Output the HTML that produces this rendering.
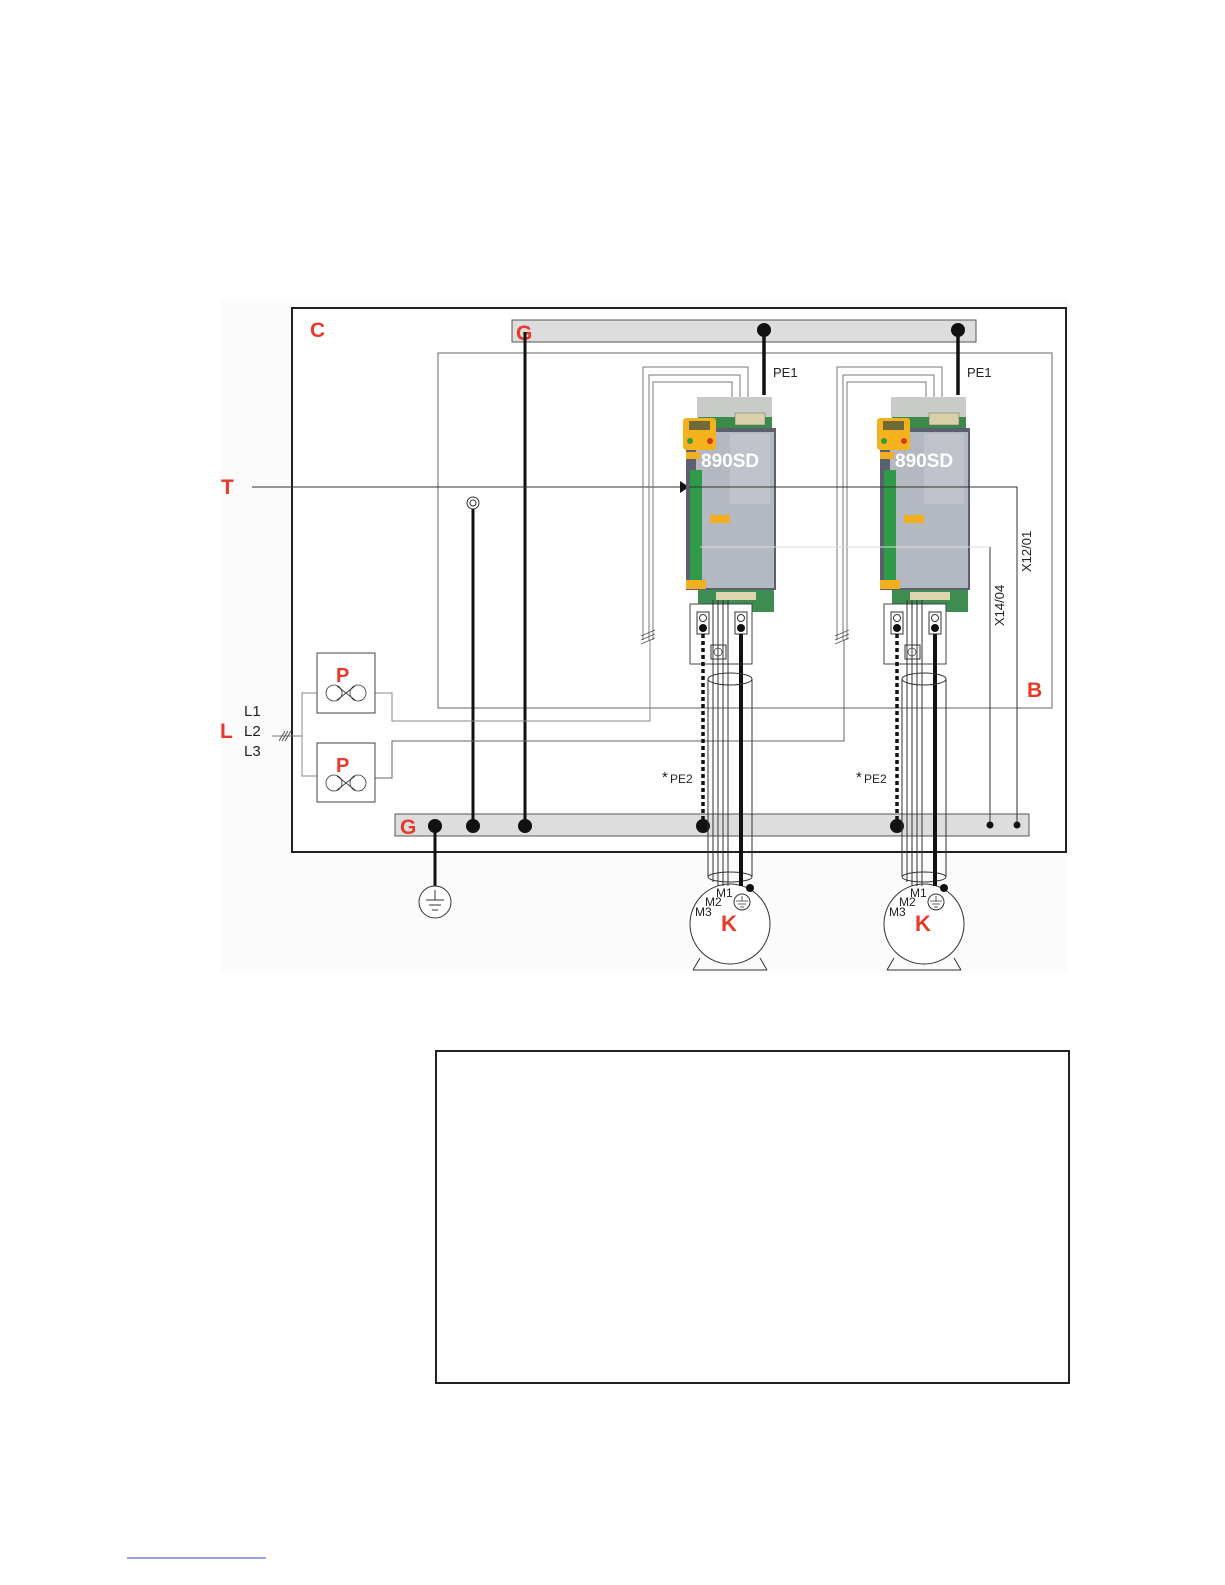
<!DOCTYPE html>
<html><head><meta charset="utf-8"><style>
html,body{margin:0;padding:0;background:#fff;}
svg{display:block;font-family:"Liberation Sans",sans-serif;}
.r{fill:#e8392a;font-weight:bold;}
</style></head><body>
<svg width="1225" height="1585" viewBox="0 0 1225 1585">
<rect x="220" y="300" width="848" height="672" fill="#fbfbfb"/>
<rect x="292" y="308" width="774" height="544" fill="#fff" stroke="#222" stroke-width="2"/>
<text x="310" y="337" class="r" font-size="21">C</text>
<rect x="438" y="353" width="614" height="355" fill="none" stroke="#666" stroke-width="1"/>
<text x="1027" y="697" class="r" font-size="21">B</text>
<rect x="512" y="320" width="464" height="22" fill="#ddd" stroke="#555" stroke-width="1"/>
<text x="516" y="340" class="r" font-size="21">G</text>
<rect x="395" y="814" width="634" height="22" fill="#ddd" stroke="#555" stroke-width="1"/>
<text x="400" y="834" class="r" font-size="21">G</text>
<line x1="525" y1="332" x2="525" y2="826" stroke="#111" stroke-width="3"/>
<circle cx="525" cy="826" r="7" fill="#111"/>
<line x1="473" y1="509" x2="473" y2="826" stroke="#111" stroke-width="3"/>
<circle cx="473" cy="503" r="6" fill="#fff" stroke="#333"/>
<circle cx="473" cy="503" r="3" fill="#fff" stroke="#333"/>
<circle cx="473" cy="826" r="7" fill="#111"/>
<line x1="435" y1="826" x2="435" y2="886" stroke="#111" stroke-width="3"/>
<circle cx="435" cy="826" r="7" fill="#111"/>
<circle cx="435" cy="902" r="16" fill="#fff" stroke="#333"/>
<line x1="435" y1="890" x2="435" y2="900" stroke="#333"/>
<line x1="426" y1="900" x2="444" y2="900" stroke="#333"/>
<line x1="429" y1="905" x2="441" y2="905" stroke="#333"/>
<line x1="432" y1="910" x2="438" y2="910" stroke="#333"/>
<text x="221" y="494" class="r" font-size="21">T</text>
<polyline points="252,487 1017,487 1017,825" fill="none" stroke="#333" stroke-width="1"/>
<polygon points="680,481 689,487 680,493" fill="#111"/>
<polyline points="700,547 990,547 990,825" fill="none" stroke="#333" stroke-width="1"/>
<circle cx="1017" cy="825" r="3.5" fill="#111"/><circle cx="990" cy="825" r="3.5" fill="#111"/>
<text transform="translate(1031,572) rotate(-90)" font-size="13" fill="#222">X12/01</text>
<text transform="translate(1004,626) rotate(-90)" font-size="13" fill="#222">X14/04</text>
<text x="220" y="738" class="r" font-size="21">L</text>
<text x="244" y="716" font-size="15" fill="#222">L1</text>
<text x="244" y="736" font-size="15" fill="#222">L2</text>
<text x="244" y="756" font-size="15" fill="#222">L3</text>
<line x1="272" y1="736" x2="302" y2="736" stroke="#777"/>
<path d="M279,741 l6,-10 M282,741 l6,-10 M285,741 l6,-10" stroke="#555"/>
<polyline points="317,693 302,693 302,776 317,776" fill="none" stroke="#888"/>
<polyline points="375,693 392,693 392,721 650,721 650,640" fill="none" stroke="#888"/>
<polyline points="375,778 392,778 392,741 844,741 844,640" fill="none" stroke="#666"/>
<rect x="317" y="653" width="58" height="60" fill="#fff" stroke="#444"/>
<text x="336" y="682" class="r" font-size="20">P</text>
<g fill="none" stroke="#333" stroke-width="0.8"><circle cx="334" cy="693" r="8"/><circle cx="358" cy="693" r="8"/><path d="M337,686 L355,700 M337,700 L355,686"/></g>
<rect x="317" y="743" width="58" height="59" fill="#fff" stroke="#444"/>
<text x="336" y="772" class="r" font-size="20">P</text>
<g fill="none" stroke="#333" stroke-width="0.8"><circle cx="334" cy="783" r="8"/><circle cx="358" cy="783" r="8"/><path d="M337,776 L355,790 M337,790 L355,776"/></g>

<defs>
<g id="drv">
<polyline points="643,640 643,367 748,367 748,405" fill="none" stroke="#777" stroke-width="1"/>
<polyline points="649,640 649,375 740,375 740,405" fill="none" stroke="#777" stroke-width="1"/>
<polyline points="653,640 653,382 732,382 732,405" fill="none" stroke="#777" stroke-width="1"/>
<path d="M641,636 l14,-6 M641,640 l14,-6 M641,644 l14,-6" stroke="#555" stroke-width="0.8"/>
<line x1="764" y1="332" x2="764" y2="395" stroke="#111" stroke-width="3.5"/>
<circle cx="764" cy="330" r="7" fill="#111"/>
<text x="773" y="377" font-size="13" fill="#222">PE1</text>
<rect x="697" y="397" width="75" height="20" fill="#c8ccc8"/>
<rect x="698" y="417" width="74" height="12" fill="#3a8a4a"/>
<rect x="735" y="413" width="30" height="12" fill="#d8d0a8" stroke="#666" stroke-width="0.5"/>
<rect x="686" y="428" width="90" height="162" fill="#5a6070"/>
<rect x="696" y="432" width="78" height="156" fill="#b4b8c0"/>
<rect x="730" y="434" width="40" height="70" fill="#c0c4ca"/>
<rect x="690" y="470" width="12" height="115" fill="#2f9a4a"/>
<rect x="710" y="515" width="20" height="8" fill="#f2b01e"/>
<rect x="686" y="580" width="20" height="9" fill="#f2b01e"/>
<rect x="698" y="590" width="76" height="22" fill="#3f8c50"/>
<rect x="716" y="592" width="40" height="8" fill="#ddd6b0"/>
<rect x="683" y="418" width="33" height="32" rx="3" fill="#f5b21c"/>
<rect x="689" y="421" width="21" height="9" fill="#6e6a3a"/>
<circle cx="690" cy="441" r="3" fill="#3a9a3a"/><circle cx="710" cy="441" r="3" fill="#d03a20"/>
<rect x="686" y="452" width="14" height="7" fill="#f2b01e"/>
<text x="701" y="467" font-size="19" font-weight="bold" fill="#fff">890SD</text>
<rect x="690" y="604" width="62" height="60" fill="#fff" stroke="#444"/>
<rect x="697" y="612" width="12" height="22" fill="#fff" stroke="#333"/>
<circle cx="703" cy="618" r="3.5" fill="#fff" stroke="#333"/><circle cx="703" cy="628" r="4" fill="#111"/>
<rect x="735" y="612" width="12" height="22" fill="#fff" stroke="#333"/>
<circle cx="741" cy="618" r="3.5" fill="#fff" stroke="#333"/><circle cx="741" cy="628" r="4" fill="#111"/>
<line x1="703" y1="634" x2="703" y2="826" stroke="#111" stroke-width="3.5" stroke-dasharray="4,3"/>
<circle cx="703" cy="826" r="7" fill="#111"/>
<line x1="741" y1="634" x2="741" y2="872" stroke="#111" stroke-width="4"/>
<rect x="711" y="645" width="15" height="14" fill="#fff" stroke="#333"/>
<circle cx="718" cy="652" r="4" fill="none" stroke="#333" stroke-width="0.7"/>
<line x1="718" y1="600" x2="718" y2="882" stroke="#333"/>
<line x1="723" y1="600" x2="723" y2="882" stroke="#333"/>
<line x1="713" y1="600" x2="713" y2="882" stroke="#333"/>
<line x1="728" y1="600" x2="728" y2="882" stroke="#333"/>
<ellipse cx="730" cy="679" rx="22" ry="6" fill="none" stroke="#333"/>
<ellipse cx="730" cy="877" rx="22" ry="5" fill="none" stroke="#333"/>
<line x1="708" y1="679" x2="708" y2="877" stroke="#333"/>
<line x1="752" y1="679" x2="752" y2="877" stroke="#333"/>
<text x="662" y="782" font-size="15" fill="#222">*</text>
<text x="670" y="783" font-size="12" fill="#222">PE2</text>
<path d="M700,958 L693,970 M760,958 L767,970" stroke="#333"/>
<line x1="693" y1="970" x2="767" y2="970" stroke="#333"/>
<circle cx="730" cy="924" r="40" fill="#fff" stroke="#333"/>
<line x1="718" y1="878" x2="718" y2="886" stroke="#333"/>
<line x1="723" y1="878" x2="723" y2="886" stroke="#333"/>
<line x1="728" y1="878" x2="728" y2="886" stroke="#333"/>
<line x1="741" y1="872" x2="741" y2="886" stroke="#111" stroke-width="4"/>
<circle cx="750" cy="888" r="4" fill="#111"/>
<circle cx="742" cy="902" r="8" fill="#fff" stroke="#333"/>
<path d="M742,896 v5 M736,901 h12 M738,904 h8 M740,907 h4" stroke="#333" stroke-width="0.8"/>
<text x="716" y="897" font-size="12" fill="#222">M1</text>
<text x="705" y="906" font-size="12" fill="#222">M2</text>
<text x="695" y="916" font-size="12" fill="#222">M3</text>
<text x="721" y="931" class="r" font-size="22">K</text>
</g>
</defs>
<use href="#drv"/>
<use href="#drv" transform="translate(194,0)"/>
<line x1="689" y1="487" x2="1017" y2="487" stroke="#333" stroke-width="1"/>
<line x1="700" y1="547" x2="990" y2="547" stroke="#ddd" stroke-width="1"/>
<rect x="436" y="1051" width="633" height="332" fill="#fff" stroke="#222" stroke-width="2"/>
<line x1="127" y1="1558" x2="266" y2="1558" stroke="#3344cc" stroke-width="1"/>
</svg>
</body></html>
